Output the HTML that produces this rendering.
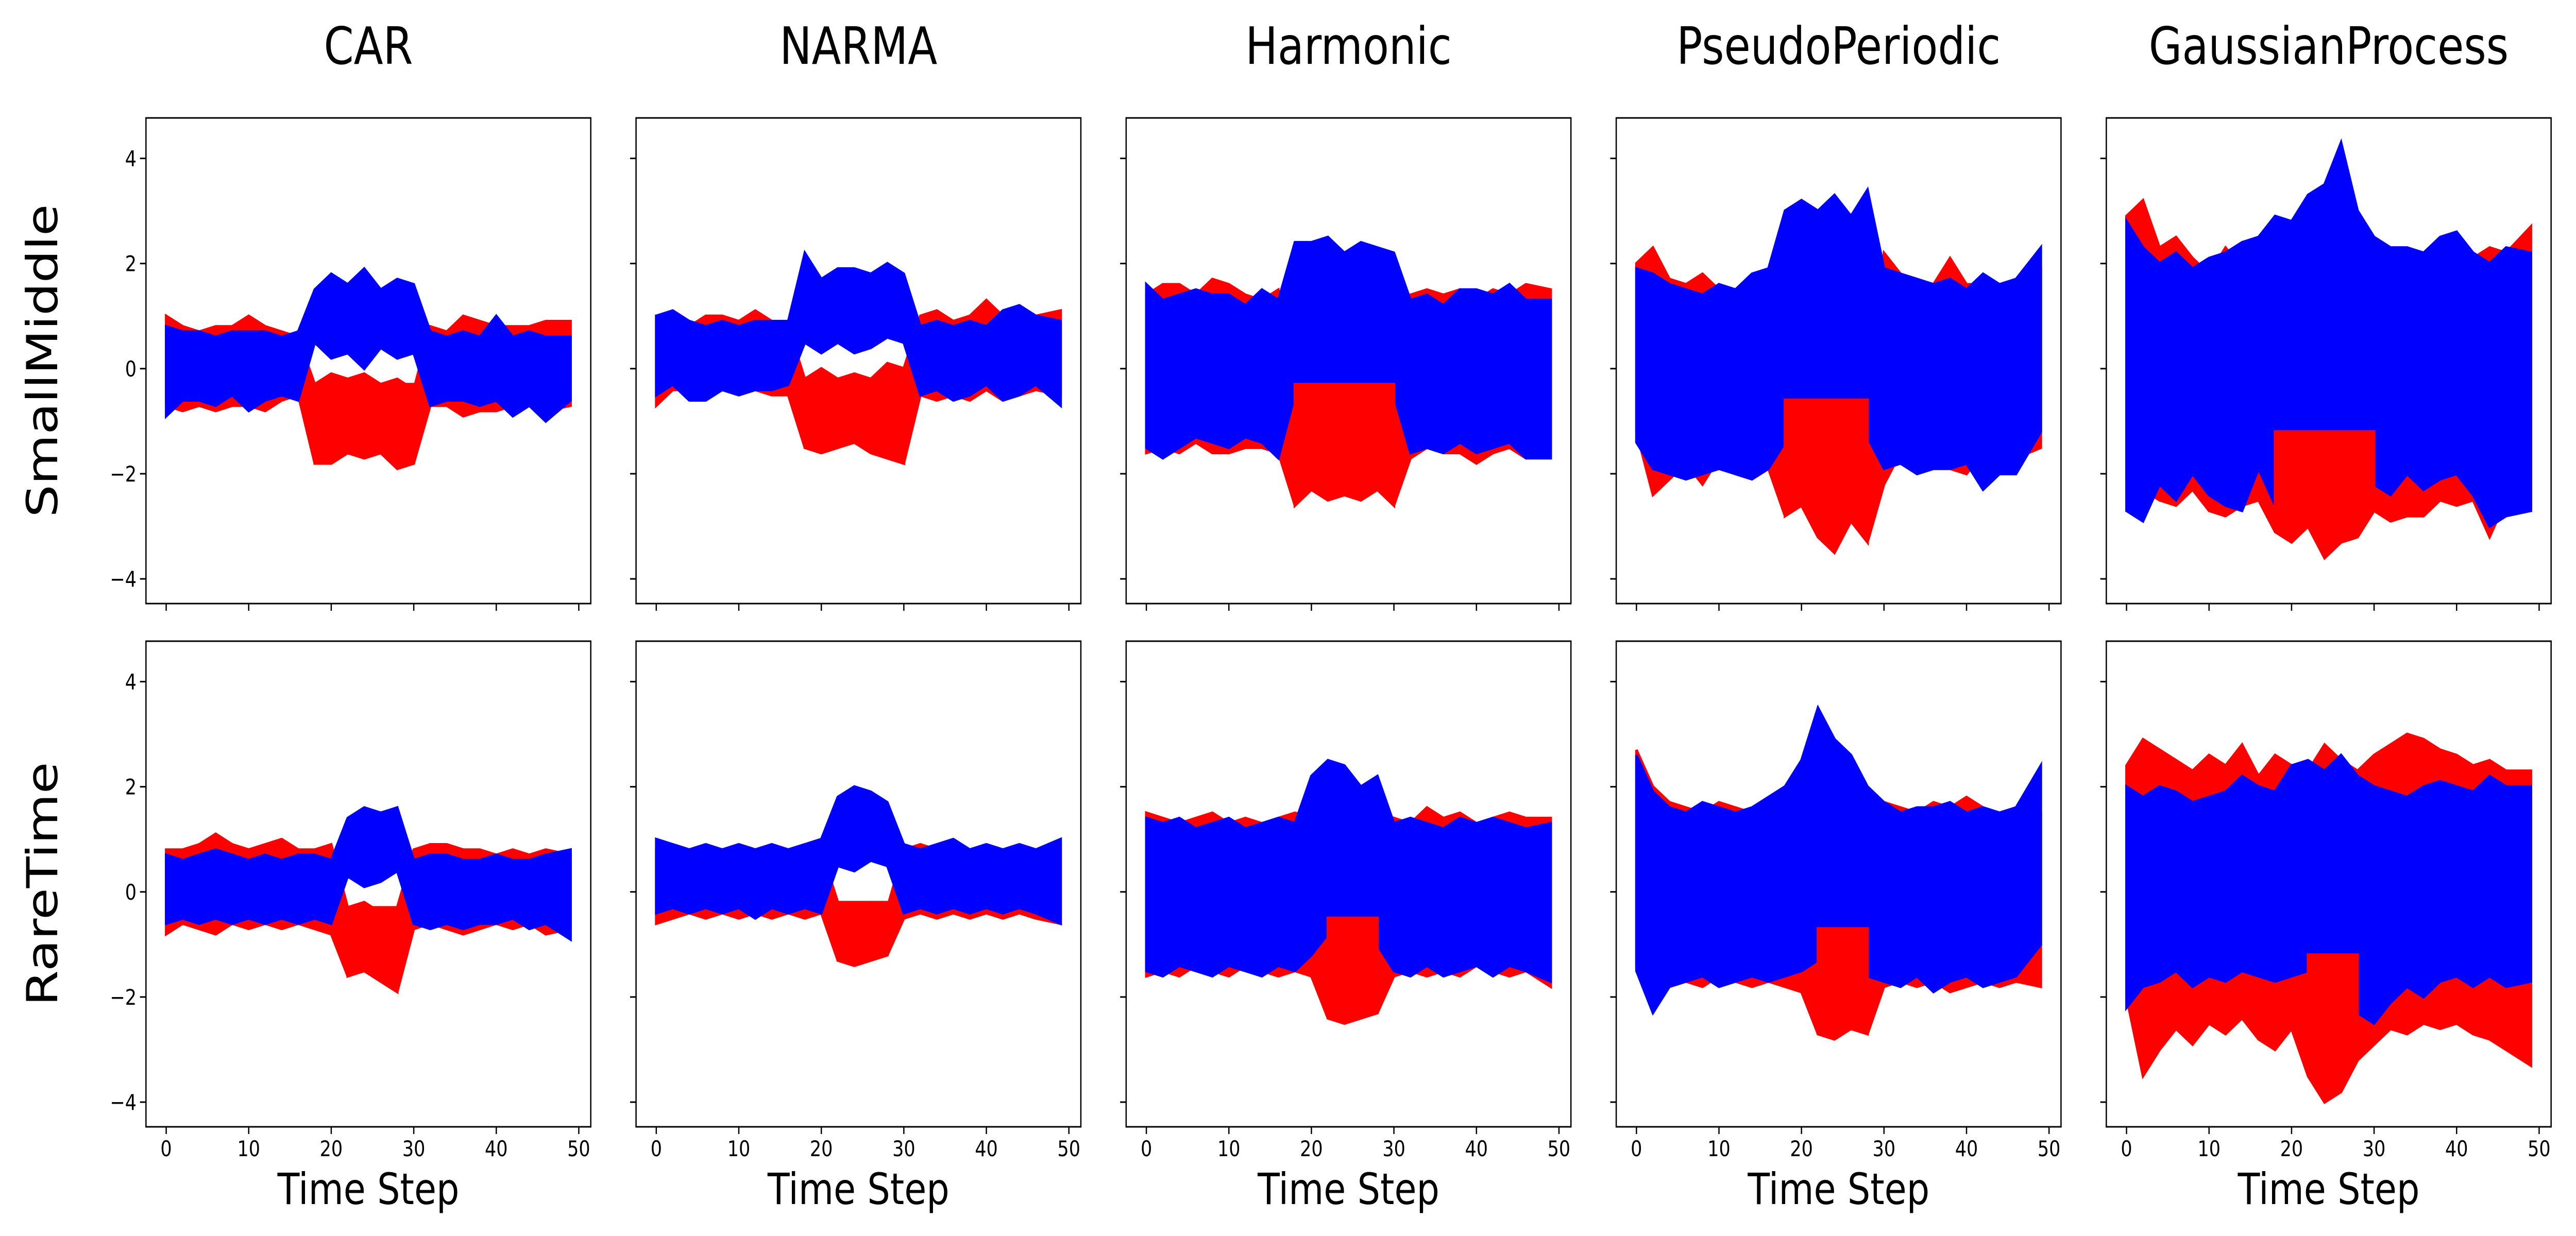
<!DOCTYPE html>
<html><head><meta charset="utf-8">
<style>
html,body{margin:0;padding:0;background:#fff;width:100vw;height:100vh;overflow:hidden;}
svg{display:block;position:absolute;left:0;top:0;width:100vw;height:100vh;font-family:"DejaVu Sans","Liberation Sans",sans-serif;}
</style></head>
<body>
<svg id="fig" viewBox="0 0 6000 2400" preserveAspectRatio="none" xmlns="http://www.w3.org/2000/svg">
<rect width="6000" height="2400" fill="#fff"/>
</svg>
<script>
// ---- data ----
const datasetNames = ["CAR","NARMA","Harmonic","PseudoPeriodic","GaussianProcess"];
const rowNames = ["SmallMiddle","RareTime"];
const timeSteps = [0,2,4,6,8,10,12,14,16,18,20,22,24,26,28,30,32,34,36,38,40,42,44,46,49];
const xTicks = [0,10,20,30,40,50];
const yTicks = [-4,-2,0,2,4];

// Row 1: SmallMiddle
const r1CarBlueHi = [0.8,0.7,0.7,0.6,0.7,0.7,0.7,0.6,0.7,1.5,1.8,1.6,1.9,1.5,1.7,1.6,0.7,0.6,0.7,0.6,1.0,0.6,0.7,0.6,0.6];
const r1CarBlueLo = [-0.9,-0.6,-0.6,-0.7,-0.5,-0.8,-0.6,-0.5,-0.6,0.5,0.2,0.3,0.0,0.4,0.2,0.3,-0.7,-0.6,-0.6,-0.7,-0.6,-0.9,-0.7,-1.0,-0.6];
const r1CarRedHi = [1.0,0.8,0.7,0.8,0.8,1.0,0.8,0.7,0.6,-0.3,-0.1,-0.2,-0.1,-0.3,-0.2,-0.4,0.8,0.7,1.0,0.9,0.8,0.8,0.8,0.9,0.9];
const r1CarRedLo = [-0.7,-0.8,-0.7,-0.8,-0.7,-0.7,-0.8,-0.6,-0.5,-1.8,-1.8,-1.6,-1.7,-1.6,-1.9,-1.8,-0.7,-0.7,-0.9,-0.8,-0.8,-0.7,-0.7,-0.8,-0.7];

const r1NarmaBlueHi = [1.0,1.1,0.9,0.8,0.9,0.8,0.9,0.9,0.9,2.2,1.7,1.9,1.9,1.8,2.0,1.8,0.8,0.9,0.8,0.9,0.8,1.1,1.2,1.0,0.9];
const r1NarmaBlueLo = [-0.5,-0.3,-0.6,-0.6,-0.4,-0.5,-0.4,-0.4,-0.3,0.5,0.3,0.5,0.3,0.4,0.6,0.5,-0.5,-0.4,-0.6,-0.5,-0.3,-0.6,-0.5,-0.3,-0.7];
const r1NarmaRedHi = [1.0,1.0,0.8,1.0,1.0,0.9,1.1,0.9,0.8,-0.2,0.0,-0.2,-0.1,-0.2,0.1,0.0,1.0,1.1,0.9,1.0,1.3,1.0,1.0,1.0,1.1];
const r1NarmaRedLo = [-0.7,-0.4,-0.4,-0.5,-0.4,-0.5,-0.4,-0.5,-0.5,-1.5,-1.6,-1.5,-1.4,-1.6,-1.7,-1.8,-0.5,-0.6,-0.5,-0.6,-0.4,-0.6,-0.5,-0.4,-0.5];

const r1HarmBlueHi = [1.6,1.3,1.4,1.5,1.4,1.4,1.2,1.5,1.3,2.4,2.4,2.5,2.2,2.4,2.3,2.2,1.3,1.4,1.2,1.5,1.5,1.4,1.6,1.3,1.3];
const r1HarmBlueLo = [-1.5,-1.7,-1.5,-1.3,-1.4,-1.5,-1.3,-1.4,-1.7,-0.5,-0.6,-0.4,-0.8,-0.5,-0.6,-0.5,-1.6,-1.5,-1.6,-1.4,-1.6,-1.5,-1.4,-1.7,-1.7];
const r1HarmRedHi = [1.4,1.6,1.6,1.4,1.7,1.6,1.4,1.3,1.5,-0.2,-0.3,-0.2,-0.4,-0.3,-0.2,-0.3,1.4,1.5,1.4,1.5,1.3,1.5,1.4,1.6,1.5];
const r1HarmRedLo = [-1.6,-1.5,-1.6,-1.4,-1.6,-1.6,-1.5,-1.5,-1.6,-2.6,-2.3,-2.5,-2.4,-2.5,-2.3,-2.6,-1.7,-1.5,-1.6,-1.6,-1.8,-1.6,-1.5,-1.7,-1.6];

const r1PseudoBlueHi = [1.9,1.8,1.6,1.5,1.4,1.6,1.5,1.8,1.9,3.0,3.2,3.0,3.3,2.9,3.4,1.9,1.8,1.7,1.6,1.7,1.5,1.8,1.6,1.7,2.3];
const r1PseudoBlueLo = [-1.4,-1.9,-2.0,-2.1,-2.0,-1.9,-2.0,-2.1,-1.9,-1.4,-1.3,-1.5,-1.2,-1.4,-1.3,-1.9,-1.8,-2.0,-1.9,-1.9,-1.8,-2.3,-2.0,-2.0,-1.2];
const r1PseudoRedHi = [2.0,2.3,1.7,1.6,1.8,1.5,1.4,1.7,1.8,0.5,0.4,0.3,0.6,0.3,0.2,2.2,1.8,1.6,1.6,2.1,1.6,1.6,1.3,1.5,1.9];
const r1PseudoRedLo = [-1.2,-2.4,-2.1,-1.8,-2.2,-1.7,-2.0,-2.1,-1.9,-2.8,-2.6,-3.2,-3.5,-2.9,-3.3,-2.2,-1.6,-1.8,-1.7,-1.9,-2.0,-1.6,-1.9,-1.7,-1.5];

const r1GpBlueHi = [2.8,2.3,2.0,2.2,1.9,2.1,2.2,2.4,2.5,2.9,2.8,3.3,3.5,4.3,3.0,2.5,2.3,2.3,2.2,2.5,2.6,2.2,2.0,2.3,2.2];
const r1GpBlueLo = [-2.7,-2.9,-2.2,-2.5,-2.0,-2.4,-2.6,-2.7,-1.9,-2.6,-2.1,-2.0,-2.2,-1.8,-2.0,-2.2,-2.4,-2.0,-2.3,-2.1,-2.0,-2.4,-3.0,-2.8,-2.7];
const r1GpRedHi = [2.9,3.2,2.3,2.5,2.1,1.8,2.3,1.9,2.0,1.5,1.2,1.3,1.0,1.4,1.2,2.2,2.1,2.0,1.9,1.8,2.4,2.1,2.3,2.2,2.7];
const r1GpRedLo = [-2.1,-2.3,-2.5,-2.6,-2.3,-2.7,-2.8,-2.6,-2.5,-3.1,-3.3,-3.0,-3.6,-3.3,-3.2,-2.7,-2.9,-2.8,-2.8,-2.5,-2.6,-2.5,-3.2,-2.5,-2.6];

// Row 2: RareTime
const r2CarBlueHi = [0.7,0.6,0.7,0.8,0.7,0.6,0.7,0.6,0.7,0.7,0.6,1.4,1.6,1.5,1.6,0.6,0.7,0.7,0.6,0.6,0.7,0.6,0.6,0.7,0.8];
const r2CarBlueLo = [-0.6,-0.5,-0.6,-0.5,-0.6,-0.5,-0.6,-0.5,-0.6,-0.5,-0.6,0.3,0.1,0.2,0.4,-0.6,-0.7,-0.6,-0.7,-0.6,-0.6,-0.5,-0.7,-0.6,-0.9];
const r2CarRedHi = [0.8,0.8,0.9,1.1,0.9,0.8,0.9,1.0,0.8,0.8,0.9,-0.3,-0.2,-0.4,-0.3,0.8,0.9,0.9,0.8,0.8,0.7,0.8,0.7,0.8,0.7];
const r2CarRedLo = [-0.8,-0.6,-0.7,-0.8,-0.6,-0.7,-0.6,-0.7,-0.6,-0.7,-0.8,-1.6,-1.5,-1.7,-1.9,-0.7,-0.6,-0.7,-0.8,-0.7,-0.6,-0.7,-0.6,-0.8,-0.7];

const r2NarmaBlueHi = [1.0,0.9,0.8,0.9,0.8,0.9,0.8,0.9,0.8,0.9,1.0,1.8,2.0,1.9,1.7,0.9,0.8,0.9,1.0,0.8,0.9,0.8,0.9,0.8,1.0];
const r2NarmaBlueLo = [-0.4,-0.3,-0.4,-0.3,-0.4,-0.3,-0.5,-0.3,-0.4,-0.3,-0.4,0.5,0.4,0.6,0.5,-0.4,-0.3,-0.4,-0.3,-0.4,-0.3,-0.4,-0.3,-0.4,-0.6];
const r2NarmaRedHi = [0.8,0.9,0.8,0.9,0.8,0.9,0.8,0.9,0.8,0.9,0.8,-0.2,-0.3,-0.2,-0.3,0.8,0.9,0.8,0.9,0.8,0.9,0.8,0.9,0.8,0.9];
const r2NarmaRedLo = [-0.6,-0.5,-0.4,-0.5,-0.4,-0.5,-0.4,-0.5,-0.4,-0.5,-0.4,-1.3,-1.4,-1.3,-1.2,-0.5,-0.4,-0.5,-0.4,-0.5,-0.4,-0.5,-0.4,-0.5,-0.6];

const r2HarmBlueHi = [1.4,1.3,1.4,1.2,1.3,1.4,1.2,1.3,1.4,1.3,2.2,2.5,2.4,2.0,2.2,1.3,1.4,1.3,1.2,1.4,1.3,1.4,1.3,1.2,1.3];
const r2HarmBlueLo = [-1.5,-1.6,-1.4,-1.5,-1.6,-1.4,-1.5,-1.6,-1.4,-1.5,-1.2,-0.8,-0.9,-0.9,-1.0,-1.5,-1.6,-1.4,-1.6,-1.5,-1.4,-1.6,-1.4,-1.5,-1.7];
const r2HarmRedHi = [1.5,1.4,1.3,1.4,1.5,1.3,1.4,1.3,1.4,1.5,1.4,-0.5,-0.4,-0.6,-0.5,1.4,1.3,1.6,1.4,1.5,1.3,1.4,1.5,1.4,1.4];
const r2HarmRedLo = [-1.6,-1.5,-1.6,-1.4,-1.5,-1.6,-1.4,-1.5,-1.6,-1.5,-1.6,-2.4,-2.5,-2.4,-2.3,-1.6,-1.5,-1.6,-1.5,-1.6,-1.4,-1.5,-1.6,-1.5,-1.8];

const r2PseudoBlueHi = [2.6,1.9,1.6,1.5,1.7,1.6,1.5,1.6,1.8,2.0,2.5,3.5,2.9,2.6,2.0,1.7,1.5,1.6,1.6,1.7,1.5,1.6,1.5,1.6,2.4];
const r2PseudoBlueLo = [-1.5,-2.3,-1.8,-1.7,-1.6,-1.8,-1.7,-1.6,-1.7,-1.6,-1.5,-1.3,-1.4,-1.3,-1.6,-1.7,-1.8,-1.6,-1.9,-1.7,-1.6,-1.8,-1.7,-1.6,-1.0];
const r2PseudoRedHi = [2.7,2.0,1.7,1.6,1.5,1.7,1.6,1.5,1.7,1.6,1.5,0.5,0.6,0.5,0.6,1.7,1.6,1.5,1.7,1.6,1.8,1.6,1.5,1.6,1.5];
const r2PseudoRedLo = [-1.4,-2.0,-1.8,-1.7,-1.8,-1.6,-1.7,-1.8,-1.7,-1.8,-1.9,-2.7,-2.8,-2.6,-2.7,-1.8,-1.7,-1.8,-1.7,-1.9,-1.8,-1.7,-1.8,-1.7,-1.8];

const r2GpBlueHi = [2.0,1.8,2.0,1.9,1.7,1.8,1.9,2.2,2.0,1.9,2.4,2.5,2.3,2.6,2.2,2.0,1.9,1.8,2.0,2.1,2.0,1.9,2.2,2.0,2.0];
const r2GpBlueLo = [-2.2,-1.8,-1.7,-1.5,-1.8,-1.6,-1.7,-1.5,-1.6,-1.7,-1.6,-1.5,-1.6,-1.9,-2.3,-2.5,-2.1,-1.8,-2.0,-1.7,-1.6,-1.8,-1.6,-1.8,-1.7];
const r2GpRedHi = [2.4,2.9,2.7,2.5,2.3,2.6,2.4,2.8,2.2,2.6,2.4,2.3,2.8,2.5,2.3,2.6,2.8,3.0,2.9,2.7,2.6,2.4,2.5,2.3,2.3];
const r2GpRedLo = [-2.0,-3.5,-3.0,-2.6,-2.9,-2.5,-2.7,-2.4,-2.8,-3.0,-2.6,-3.5,-4.0,-3.8,-3.2,-2.9,-2.6,-2.7,-2.5,-2.6,-2.5,-2.7,-2.8,-3.0,-3.3];

// anomaly windows (index range in timeSteps) and top of the red anomaly block
const anomStart = [[9,9,9,9,9],[11,11,11,11,11]];
const anomEnd = [[15,15,15,14,15],[14,14,14,14,14]];
const anomTop = [[-0.3,-0.2,-0.3,-0.6,-1.2],[-0.3,-0.2,-0.5,-0.7,-1.2]];

const bands = [
 [[r1CarBlueHi,r1CarBlueLo,r1CarRedHi,r1CarRedLo],[r1NarmaBlueHi,r1NarmaBlueLo,r1NarmaRedHi,r1NarmaRedLo],[r1HarmBlueHi,r1HarmBlueLo,r1HarmRedHi,r1HarmRedLo],[r1PseudoBlueHi,r1PseudoBlueLo,r1PseudoRedHi,r1PseudoRedLo],[r1GpBlueHi,r1GpBlueLo,r1GpRedHi,r1GpRedLo]],
 [[r2CarBlueHi,r2CarBlueLo,r2CarRedHi,r2CarRedLo],[r2NarmaBlueHi,r2NarmaBlueLo,r2NarmaRedHi,r2NarmaRedLo],[r2HarmBlueHi,r2HarmBlueLo,r2HarmRedHi,r2HarmRedLo],[r2PseudoBlueHi,r2PseudoBlueLo,r2PseudoRedHi,r2PseudoRedLo],[r2GpBlueHi,r2GpBlueLo,r2GpRedHi,r2GpRedLo]]
];

// ---- layout ----
const NS = "http://www.w3.org/2000/svg";
const svg = document.getElementById('fig');
const axLefts = [340,1481.5,2623,3764.5,4906];
const axW = 1036;
const rowTops = [229,1245];
const axH = 943;
const xMin = -2.45, xMax = 51.45, yMin = -4.47, yMax = 4.77;

function el(tag, attrs, parent){
  const e = document.createElementNS(NS, tag);
  for (const k in attrs) e.setAttribute(k, attrs[k]);
  (parent||svg).appendChild(e);
  return e;
}
function xs(c, v){ return axLefts[c] + (v - xMin)/(xMax - xMin)*axW; }
function ys(r, v){ return rowTops[r] + (yMax - v)/(yMax - yMin)*axH; }
function bandPath(r, c, hi, lo, a, b){
  let pts = [];
  for (let i=a;i<=b;i++) pts.push(xs(c,timeSteps[i]).toFixed(1)+','+ys(r,hi[i]).toFixed(1));
  for (let i=b;i>=a;i--) pts.push(xs(c,timeSteps[i]).toFixed(1)+','+ys(r,lo[i]).toFixed(1));
  return pts.join(' ');
}
function constBand(r,c,top,lo,a,b){
  let pts=[];
  for (let i=a;i<=b;i++) pts.push(xs(c,timeSteps[i]).toFixed(1)+','+ys(r,top).toFixed(1));
  for (let i=b;i>=a;i--) pts.push(xs(c,timeSteps[i]).toFixed(1)+','+ys(r,lo[i]).toFixed(1));
  return pts.join(' ');
}

for (let r=0;r<2;r++){
  for (let c=0;c<5;c++){
    const g = el('g',{});
    
    
    const clipId = 'clip'+r+c;
    const cp = el('clipPath',{id:clipId}, g);
    el('rect',{x:axLefts[c],y:rowTops[r],width:axW,height:axH}, cp);
    const plot = el('g',{'clip-path':'url(#'+clipId+')'}, g);
    const [bHi,bLo,rHi,rLo] = bands[r][c];
    const red = el('polygon',{points:bandPath(r,c,rHi,rLo,0,timeSteps.length-1),fill:'#ff0000',stroke:'#ff0000','stroke-width':6,'stroke-linejoin':'miter'}, plot);
    
    
    const blue = el('polygon',{points:bandPath(r,c,bHi,bLo,0,timeSteps.length-1),fill:'#0000ff',stroke:'#0000ff','stroke-width':6,'stroke-linejoin':'miter'}, plot);
    
    
    const an = el('polygon',{points:constBand(r,c,anomTop[r][c],rLo,anomStart[r][c],anomEnd[r][c]),fill:'#ff0000',stroke:'#ff0000','stroke-width':6}, plot);
    
    
    const fr = el('rect',{x:axLefts[c],y:rowTops[r],width:axW,height:axH,fill:'none',stroke:'#000','stroke-width':3}, g);
    
    
    const yb = rowTops[r]+axH;
    for (const t of xTicks){
      const X = xs(c,t);
      const tk = el('line',{x1:X,x2:X,y1:yb,y2:yb+14,stroke:'#000','stroke-width':3}, g);
      
      
      if (r===1){
        const tl = el('text',{x:X,y:yb+57,'font-size':42,'text-anchor':'middle',fill:'#000'}, g);
        
        
        tl.textContent = t;
      }
    }
    for (const v of yTicks){
      const Y = ys(r,v);
      const tk = el('line',{x1:axLefts[c]-14,x2:axLefts[c],y1:Y,y2:Y,stroke:'#000','stroke-width':3}, g);
      
      
      if (c===0){
        const tl = el('text',{x:axLefts[c]-22,y:Y+15,'font-size':42,'text-anchor':'end',fill:'#000'}, g);
        
        
        tl.textContent = (v<0?'\u2212':'')+Math.abs(v);
      }
    }
    if (r===0){
      const tt = el('text',{x:axLefts[c]+axW/2,y:124,'font-size':100,'text-anchor':'middle',fill:'#000'}, g);
      
      
      tt.textContent = datasetNames[c];
    } else {
      const xl = el('text',{x:axLefts[c]+axW/2,y:2338,'font-size':84,'text-anchor':'middle',fill:'#000'}, g);
      
      
      xl.textContent = 'Time Step';
    }
  }
  const cy = rowTops[r]+axH/2;
  const rl = el('text',{x:133,y:cy,'font-size':100,'text-anchor':'middle',fill:'#000',transform:'rotate(-90 133 '+cy+')'});
  
  
  rl.textContent = rowNames[r];
}
</script>
</body></html>
